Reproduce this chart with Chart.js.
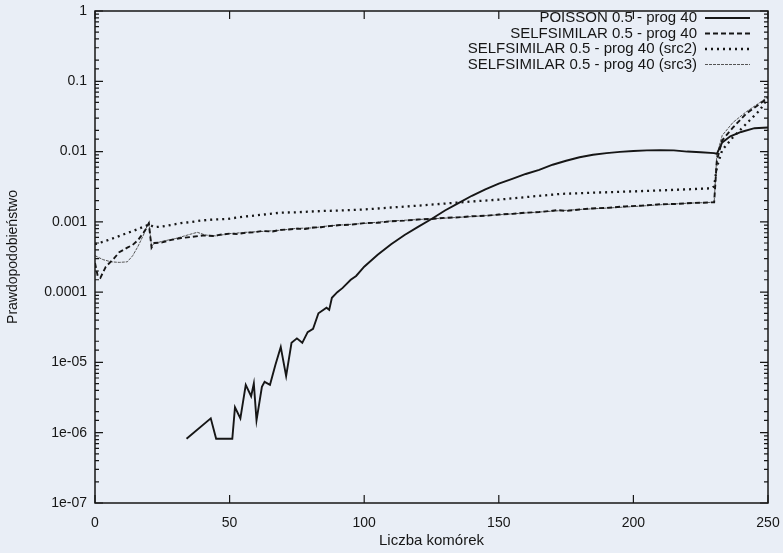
<!DOCTYPE html>
<html>
<head>
<meta charset="utf-8">
<script src="https://cdn.jsdelivr.net/npm/chart.js@4/dist/chart.umd.min.js"></script>
<style>
  body { margin: 0; background: #e9eef6; }
  #chart { display: block; }
</style>
</head>
<body>
<canvas id="chart" width="783" height="553"></canvas>
<script>
// series labels
const seriesNames = ['POISSON 0.5 - prog 40', 'SELFSIMILAR 0.5 - prog 40',
  'SELFSIMILAR 0.5 - prog 40 (src2)', 'SELFSIMILAR 0.5 - prog 40 (src3)'];

// y tick labels, 10^0 down to 10^-7
const yTickLabels = ['1', '0.1', '0.01', '0.001', '0.0001', '1e-05', '1e-06', '1e-07'];

// values (x = liczba komorek, y = prawdopodobienstwo)
const poissonX = [34,43,45,51,52,54,56,58,59,60,62,63,65,67,69,71,73,75,77,79,81,83,86,87,88,90,92,95,97,100,
  105,110,115,120,125,130,135,140,145,150,155,160,165,170,175,180,185,190,195,200,205,210,215,220,225,230,231,233,236,240,245,250];
const poissonY = [8.2e-7,1.6e-6,8.2e-7,8.2e-7,2.3e-6,1.6e-6,4.8e-6,3.3e-6,5e-6,1.5e-6,4.5e-6,5.3e-6,4.8e-6,9.2e-6,1.66e-5,6.4e-6,1.9e-5,2.2e-5,1.9e-5,2.7e-5,
  3e-5,5e-5,6e-5,5.6e-5,8.3e-5,1e-4,1.15e-4,1.5e-4,1.7e-4,2.3e-4,3.4e-4,4.8e-4,6.5e-4,8.5e-4,1.1e-3,1.45e-3,1.85e-3,2.35e-3,2.9e-3,3.5e-3,
  4.1e-3,4.8e-3,5.5e-3,6.5e-3,7.4e-3,8.3e-3,9.0e-3,9.5e-3,9.9e-3,1.02e-2,1.04e-2,1.05e-2,1.04e-2,1.0e-2,9.8e-3,9.5e-3,9.3e-3,1.35e-2,1.65e-2,1.9e-2,2.15e-2,2.2e-2];

const selfX = [0,1,2,4,7,9,12,14,16,18,19,20,21,22,25,28,32,36,40,44,47,50,53,56,59,62,66,69,72,75,78,81,84,87,91,95,100,105,110,115,
  120,125,130,135,140,145,150,155,160,165,170,172,175,180,184,190,197,203,210,216,222,226,230,231,233,237,242,246,250];
const selfY = [2.6e-4,1.7e-4,1.6e-4,2.3e-4,3.0e-4,3.7e-4,4.3e-4,4.7e-4,5.5e-4,7e-4,8e-4,9.5e-4,4.3e-4,5e-4,5.1e-4,5.5e-4,5.9e-4,6.1e-4,6.4e-4,6.3e-4,
  6.6e-4,6.8e-4,6.7e-4,7.0e-4,7.1e-4,7.4e-4,7.3e-4,7.7e-4,7.8e-4,8.0e-4,7.9e-4,8.3e-4,8.4e-4,8.7e-4,9.0e-4,9.1e-4,9.6e-4,9.7e-4,1.02e-3,1.04e-3,
  1.08e-3,1.1e-3,1.14e-3,1.16e-3,1.2e-3,1.22e-3,1.27e-3,1.3e-3,1.35e-3,1.38e-3,1.44e-3,1.47e-3,1.43e-3,1.5e-3,1.55e-3,1.58e-3,1.66e-3,1.7e-3,1.78e-3,1.8e-3,
  1.86e-3,1.87e-3,1.9e-3,7.5e-3,1.45e-2,2.2e-2,3.5e-2,4.5e-2,5.8e-2];

const src2X = [0,3,6,10,14,17,19,20,22,25,28,32,36,40,44,49,55,60,65,69,75,80,85,91,100,110,120,130,140,150,
  160,173,185,198,210,220,229,230,231,233,237,242,247,250];
const src2Y = [4.8e-4,5.2e-4,5.7e-4,6.5e-4,7.4e-4,8.2e-4,8.8e-4,9.2e-4,8.4e-4,8.6e-4,9.0e-4,9.6e-4,1.0e-3,1.05e-3,1.08e-3,1.1e-3,1.18e-3,1.24e-3,1.3e-3,1.35e-3,
  1.37e-3,1.4e-3,1.43e-3,1.45e-3,1.5e-3,1.6e-3,1.7e-3,1.82e-3,1.95e-3,2.07e-3,2.25e-3,2.5e-3,2.6e-3,2.7e-3,2.8e-3,2.9e-3,3.0e-3,3.2e-3,6e-3,1.05e-2,
  1.6e-2,2.5e-2,3.9e-2,5.8e-2];

const src3X = [0,3,6,9,12,14,16,18,20,21,22,25,30,35,38,41,45,50,56,62,69,75,81,87,91,100,110,120,130,140,
  150,160,170,180,190,200,210,220,230,231,233,237,242,246,250];
const src3Y = [3.3e-4,2.9e-4,2.7e-4,2.65e-4,2.7e-4,3.3e-4,4.5e-4,6.5e-4,1.0e-3,4.5e-4,4.9e-4,5.3e-4,5.8e-4,6.6e-4,7.1e-4,6.5e-4,6.3e-4,6.8e-4,7.1e-4,7.3e-4,
  7.6e-4,8.1e-4,8.2e-4,8.8e-4,9.0e-4,9.5e-4,1.03e-3,1.08e-3,1.13e-3,1.19e-3,1.26e-3,1.34e-3,1.42e-3,1.5e-3,1.57e-3,1.65e-3,1.75e-3,1.84e-3,1.9e-3,9e-3,
  1.7e-2,2.6e-2,3.7e-2,4.7e-2,6e-2];

const pairs = (xs, ys) => xs.map((x, i) => ({x: x, y: ys[i]}));
const ink = '#161616';
const fontFamily = '"Liberation Sans", Arial, sans-serif';

// gnuplot-like frame, inward ticks and legend
const gnuplotFrame = {
  id: 'gnuplotFrame',
  afterDraw(chart) {
    const ctx = chart.ctx;
    const a = chart.chartArea;
    const xs = chart.scales.x, ys = chart.scales.y;
    ctx.save();
    ctx.strokeStyle = ink;
    ctx.lineWidth = 1.5;
    ctx.strokeRect(a.left, a.top, a.right - a.left, a.bottom - a.top);
    ctx.lineWidth = 1.2;
    ctx.beginPath();
    ys.ticks.forEach(t => {
      const p = ys.getPixelForValue(t.value);
      const e = Math.log10(t.value);
      const len = Math.abs(e - Math.round(e)) < 1e-6 ? 8 : 4;
      ctx.moveTo(a.left, p); ctx.lineTo(a.left + len, p);
      ctx.moveTo(a.right, p); ctx.lineTo(a.right - len, p);
    });
    xs.ticks.forEach(t => {
      const p = xs.getPixelForValue(t.value);
      ctx.moveTo(p, a.bottom); ctx.lineTo(p, a.bottom - 8);
      ctx.moveTo(p, a.top); ctx.lineTo(p, a.top + 8);
    });
    ctx.stroke();

    // legend, text right aligned with sample line on the right
    ctx.font = '15px ' + fontFamily;
    ctx.textAlign = 'right';
    ctx.textBaseline = 'middle';
    chart.data.datasets.forEach((ds, i) => {
      const y = a.top + 7 + i * 15.5;
      ctx.fillStyle = ink;
      ctx.fillText(ds.label, 697, y);
      ctx.strokeStyle = ds.borderColor;
      ctx.lineWidth = ds.borderWidth;
      ctx.setLineDash(ds.borderDash || []);
      ctx.beginPath();
      ctx.moveTo(705, y); ctx.lineTo(750, y);
      ctx.stroke();
    });
    ctx.restore();
  }
};

const common = {pointRadius: 0, tension: 0, fill: false};

new Chart(document.getElementById('chart'), {
  type: 'line',
  data: {
    datasets: [
      {...common, label: seriesNames[0], data: pairs(poissonX, poissonY), borderColor: ink, borderWidth: 1.9},
      {...common, label: seriesNames[1], data: pairs(selfX, selfY), borderColor: ink, borderWidth: 1.9, borderDash: [5, 3]},
      {...common, label: seriesNames[2], data: pairs(src2X, src2Y), borderColor: ink, borderWidth: 2.3, borderDash: [2, 4]},
      {...common, label: seriesNames[3], data: pairs(src3X, src3Y), borderColor: '#555', borderWidth: 1, borderDash: [3, 1]}
    ]
  },
  options: {
    responsive: false,
    devicePixelRatio: 1,
    animation: false,
    layout: {padding: {top: 11, right: 15, left: 0, bottom: 0}},
    plugins: {legend: {display: false}, tooltip: {enabled: false}},
    scales: {
      x: {
        type: 'linear', min: 0, max: 250,
        grid: {display: false, drawTicks: false},
        border: {display: false},
        ticks: {stepSize: 50, padding: 12, color: ink, font: {family: fontFamily, size: 14}, maxRotation: 0},
        title: {display: true, text: 'Liczba komórek', color: ink, font: {family: fontFamily, size: 15}, padding: {top: 0, bottom: 3}},
        afterFit(scale) { scale.height = 50; scale.paddingLeft = 0; scale.paddingRight = 0; }
      },
      y: {
        type: 'logarithmic', min: 1e-7, max: 1,
        grid: {display: false, drawTicks: false},
        border: {display: false},
        ticks: {
          autoSkip: false, padding: 8, color: ink, font: {family: fontFamily, size: 14},
          callback(value) {
            const e = Math.log10(value);
            if (Math.abs(e - Math.round(e)) > 1e-6) return '';
            return yTickLabels[-Math.round(e)];
          }
        },
        title: {display: true, text: 'Prawdopodobieństwo', color: ink, font: {family: fontFamily, size: 14}, padding: {top: 5, bottom: 0}},
        afterFit(scale) { scale.width = 95; scale.paddingTop = 0; scale.paddingBottom = 0; }
      }
    }
  },
  plugins: [gnuplotFrame]
});
</script>
</body>
</html>
